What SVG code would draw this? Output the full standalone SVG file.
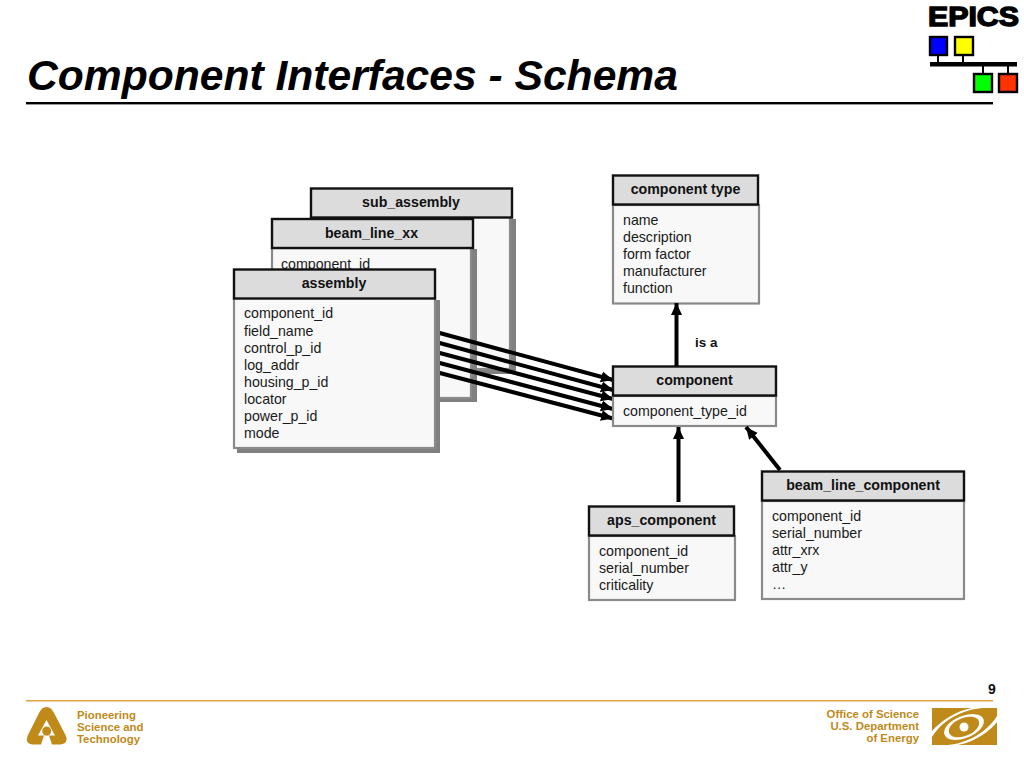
<svg xmlns="http://www.w3.org/2000/svg" width="1024" height="768" viewBox="0 0 1024 768">
<style>
text{font-family:"Liberation Sans",Arial,sans-serif}
.t{font-size:14.2px;fill:#1a1a1a}
.h{font-size:14.2px;font-weight:700;fill:#111;text-anchor:middle}
.hd{fill:#dcdcdc;stroke:#111;stroke-width:2.4}
.bd{fill:#f8f8f8;stroke:#8a8a8a;stroke-width:2.2}
.sh{fill:#808080}
.c{stroke:#000;stroke-width:4;fill:none}
.f{font-size:11.4px;font-weight:700;fill:#bf8a1a}
.sq{stroke:#000;stroke-width:2.4}
</style>
<defs>
<marker id="a" markerUnits="userSpaceOnUse" markerWidth="14" markerHeight="12" refX="12" refY="6" orient="auto"><path d="M0 0.500L12 6L0 11.500Z" fill="#000"/></marker>
</defs>
<rect width="1024" height="768" fill="#fff"/>
<text id="title" x="27" y="90" font-size="42.600" font-weight="700" font-style="italic" fill="#000">Component Interfaces - Schema</text>
<rect x="26" y="102" width="967" height="2.400" fill="#000"/>
<g id="epics-logo">
<text x="928" y="26" font-size="27" font-weight="700" fill="#000" stroke="#000" stroke-width="1.400" textLength="91" lengthAdjust="spacingAndGlyphs">EPICS</text>
<rect class="sq" x="930" y="37" width="17" height="18" fill="#0000ff"/>
<rect class="sq" x="955" y="37" width="18" height="18" fill="#ffff00"/>
<rect x="937" y="55" width="2" height="8" fill="#000"/><rect x="962" y="55" width="2" height="8" fill="#000"/>
<rect x="930" y="62" width="87" height="4.500" fill="#000"/>
<rect x="982" y="66" width="2" height="8" fill="#000"/><rect x="1007" y="66" width="2" height="8" fill="#000"/>
<rect class="sq" x="974" y="74" width="18" height="18" fill="#00ff00"/>
<rect class="sq" x="999" y="74" width="18" height="18" fill="#ff3300"/>
</g>
<g id="sub_assembly">
<rect class="sh" x="314" y="219" width="202" height="155"/>
<rect class="bd" x="311" y="217" width="199" height="152"/>
<rect class="hd" x="311" y="188.500" width="201" height="29"/>
<text class="h" x="411" y="207">sub_assembly</text>
</g>
<g id="beam_line_xx">
<rect class="sh" x="275" y="249" width="202" height="153"/>
<rect class="bd" x="272" y="248" width="199" height="150"/>
<rect class="hd" x="272" y="219" width="201" height="29"/>
<text class="h" x="371.500" y="238">beam_line_xx</text>
<text class="t" x="281" y="269">component_id</text>
</g>
<g id="connectors-back">
<path class="c" d="M436 332L613 380" marker-end="url(#a)"/>
<path class="c" d="M436 342L613 390" marker-end="url(#a)"/>
<path class="c" d="M436 352L613 399" marker-end="url(#a)"/>
<path class="c" d="M436 362L613 409" marker-end="url(#a)"/>
<path class="c" d="M436 372L613 418.500" marker-end="url(#a)"/>
</g>
<g id="assembly">
<rect class="sh" x="237" y="300" width="203" height="153"/>
<rect class="bd" x="234" y="298" width="201" height="150"/>
<rect class="hd" x="234" y="269.500" width="201" height="29"/>
<text class="h" x="334" y="288">assembly</text>
<text class="t" x="244" y="318">component_id</text>
<text class="t" x="244" y="336">field_name</text>
<text class="t" x="244" y="353">control_p_id</text>
<text class="t" x="244" y="370">log_addr</text>
<text class="t" x="244" y="387">housing_p_id</text>
<text class="t" x="244" y="404">locator</text>
<text class="t" x="244" y="421">power_p_id</text>
<text class="t" x="244" y="438">mode</text>
</g>
<g id="component_type">
<rect class="bd" x="613" y="205" width="146" height="98.500"/>
<rect class="hd" x="613" y="175.500" width="145" height="29"/>
<text class="h" x="685.500" y="194">component type</text>
<text class="t" x="623" y="225">name</text>
<text class="t" x="623" y="242">description</text>
<text class="t" x="623" y="259">form factor</text>
<text class="t" x="623" y="276">manufacturer</text>
<text class="t" x="623" y="293">function</text>
</g>
<g id="component">
<rect class="bd" x="613" y="396" width="163" height="30"/>
<rect class="hd" x="613" y="366.500" width="163" height="29"/>
<text class="h" x="694.500" y="385">component</text>
<text class="t" x="623" y="416">component_type_id</text>
</g>
<g id="aps_component">
<rect class="bd" x="589" y="536" width="146" height="64"/>
<rect class="hd" x="589" y="506.500" width="145" height="29"/>
<text class="h" x="661.500" y="525">aps_component</text>
<text class="t" x="599" y="556">component_id</text>
<text class="t" x="599" y="573">serial_number</text>
<text class="t" x="599" y="590">criticality</text>
</g>
<g id="beam_line_component">
<rect class="bd" x="762" y="501" width="202" height="98"/>
<rect class="hd" x="762" y="471.500" width="202" height="29"/>
<text class="h" x="863" y="490">beam_line_component</text>
<text class="t" x="772" y="521">component_id</text>
<text class="t" x="772" y="538">serial_number</text>
<text class="t" x="772" y="555">attr_xrx</text>
<text class="t" x="772" y="572">attr_y</text>
<text class="t" x="772" y="589">…</text>
</g>
<g id="connectors">
<path class="c" d="M676.500 366V303" marker-end="url(#a)"/>
<path class="c" d="M678.500 502V427" marker-end="url(#a)"/>
<path class="c" d="M780 470L746 427" marker-end="url(#a)"/>
</g>
<text x="695" y="347" font-size="13.500" font-weight="700" fill="#111">is a</text>
<rect x="26" y="700" width="967" height="1.500" fill="#d9a441"/>
<text x="992" y="694" font-size="14" font-weight="700" fill="#111" text-anchor="middle">9</text>
<g id="anl-logo">
<path d="M46.500 707C50 707 52 709 54 713L65.500 735C68.500 741 65 744.500 60 744.500H52L49 735.500H44L41 744.500H33C28 744.500 25 741 28 735L39 713C41 709 43 707 46.500 707Z" fill="#bf8a1a"/>
<path d="M46.500 720L38 735.500H55Z" fill="#fff"/><circle cx="46.700" cy="731" r="4.500" fill="#bf8a1a"/>
</g>
<text class="f" x="77" y="719">Pioneering</text>
<text class="f" x="77" y="731">Science and</text>
<text class="f" x="77" y="743">Technology</text>
<g text-anchor="end">
<text class="f" x="919" y="718">Office of Science</text>
<text class="f" x="919" y="730">U.S. Department</text>
<text class="f" x="919" y="742">of Energy</text>
</g>
<g id="doe-logo">
<rect x="932" y="708" width="65" height="37" fill="#bf8a1a"/>
<path d="M932 737C945 716 970 708 985 708H972C955 711 940 722 932 731Z" fill="#fff"/>
<path d="M997 716C985 735 962 745 945 745H958C975 742 990 731 997 722Z" fill="#fff"/>
<ellipse cx="964" cy="727" rx="21" ry="11" transform="rotate(-22 964 727)" fill="#fff"/>
<ellipse cx="964" cy="727" rx="16" ry="9" transform="rotate(-22 964 727)" fill="#bf8a1a"/>
<circle cx="964" cy="727" r="4.500" fill="#fff"/>
</g>
</svg>
